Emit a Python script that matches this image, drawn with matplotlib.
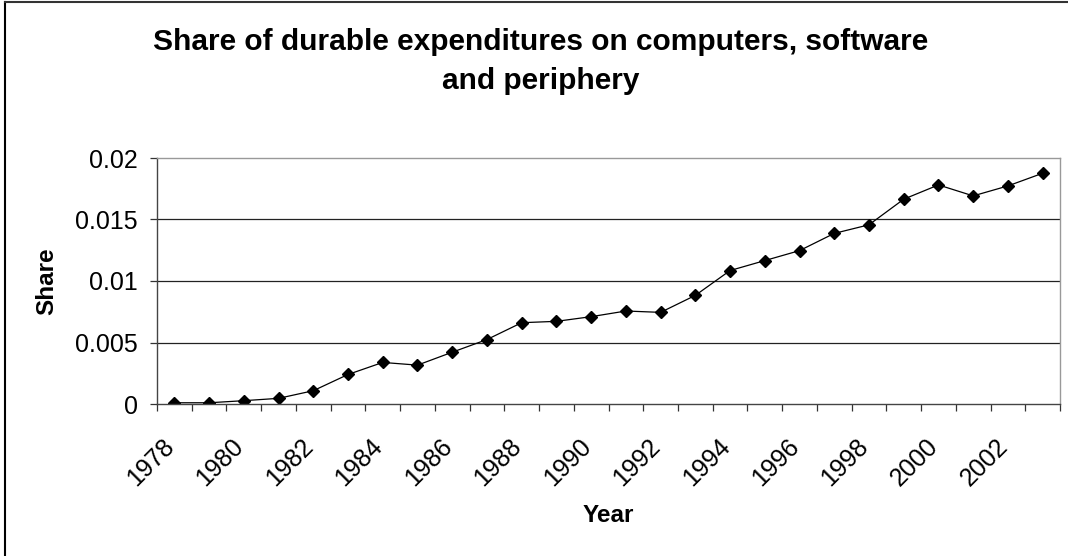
import numpy as np
import matplotlib
matplotlib.use('Agg')
from matplotlib import pyplot as plt
from matplotlib.lines import Line2D
from matplotlib.transforms import ScaledTranslation

plt.rcParams['font.family'] = ['Liberation Sans', 'DejaVu Sans']

years = list(range(1978, 2004))
share = [0.0001, 0.0001, 0.00027, 0.00046, 0.00108, 0.0024, 0.00338, 0.00316,
         0.00421, 0.00524, 0.00661, 0.00672, 0.0071, 0.00756, 0.00745, 0.00883,
         0.01085, 0.01166, 0.01247, 0.01387, 0.01457, 0.01665, 0.01781, 0.01692,
         0.01773, 0.01876]
ytick_vals = [0, 0.005, 0.01, 0.015, 0.02]
ytick_labels = ['0', '0.005', '0.01', '0.015', '0.02']

fig = plt.figure(figsize=(10.68, 5.56), dpi=100)
ax = fig.add_axes([157/1068, 1 - 404/556, (1060 - 157)/1068, (404 - 158)/556])

x = np.arange(len(years))
ax.plot(x, share, color='black', lw=0.9, marker='D', ms=6.5,
        markerfacecolor='black', markeredgecolor='black')

ax.set_xlim(-0.5, len(years) - 0.5)
ax.set_ylim(0, 0.02)

# y axis
ax.set_yticks(ytick_vals)
ax.set_yticklabels(ytick_labels, fontsize=18)
ax.tick_params(axis='y', direction='out', length=5, width=0.9, pad=9,
               colors='#333333', labelcolor='black')
for v in ytick_vals[1:-1]:
    ax.axhline(v, color='#222222', lw=0.9, zorder=0)

# x axis: labels at every 2nd category, tick marks between categories
ax.set_xticks(x[::2])
ax.set_xticklabels([str(y) for y in years[::2]], fontsize=18, rotation=45,
                   ha='right', va='center', rotation_mode='anchor')
ax.tick_params(axis='x', which='major', length=0, pad=28)
shift = ScaledTranslation(-4/100, 0, fig.dpi_scale_trans)
for lab in ax.get_xticklabels():
    lab.set_transform(lab.get_transform() + shift)
ax.set_xticks(np.arange(-0.5, len(years)), minor=True)
ax.tick_params(axis='x', which='minor', direction='out', length=5, width=0.9, colors='#333333')

ax.spines['left'].set_color('#444444')
ax.spines['bottom'].set_color('#444444')
ax.spines['top'].set_color('#999999')
ax.spines['right'].set_color('#999999')
for s in ax.spines.values():
    s.set_linewidth(1.0)

ax.set_xlabel('Year', fontsize=17.5, fontweight='bold')
ax.xaxis.set_label_coords(0.5, -0.4065)
ax.set_ylabel('Share', fontsize=17.5, fontweight='bold')
ax.yaxis.set_label_coords(-0.1096, 0.5)

fig.text(541/1068, 1 - 28/556, 'Share of durable expenditures on computers, software\nand periphery',
         ha='center', va='top', fontsize=21.5, fontweight='bold', linespacing=1.5)

# chart area border (left/top visible)
fig.add_artist(Line2D([5/1068, 5/1068], [0, 1 - 2/556], transform=fig.transFigure, color='black', lw=1.5))
fig.add_artist(Line2D([5/1068, 1], [1 - 2/556, 1 - 2/556], transform=fig.transFigure, color='#333333', lw=1.5))

fig.savefig('out.png', dpi=100)
